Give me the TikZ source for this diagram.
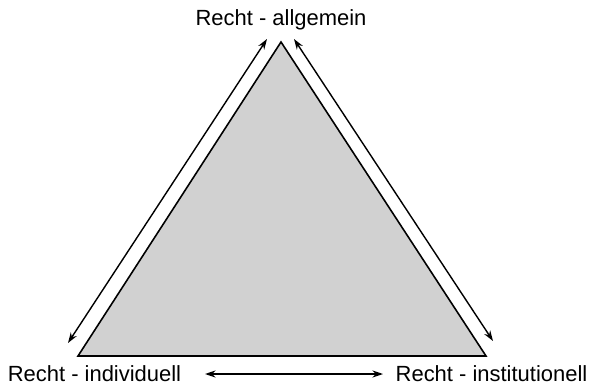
\documentclass[tikz,border=0pt]{standalone}
\usepackage{fontspec}
\setmainfont{Liberation Sans}
\usetikzlibrary{arrows.meta, positioning}

\begin{document}
\begin{tikzpicture}[
    x=0.02cm, y=0.02cm,
    cornerLabel/.style={font=\fontsize{12.5}{14}\selectfont, inner sep=0pt},
    triangleFill/.style={fill=black!18, draw=black, line width=0.9pt, line join=miter},
    sideRel/.style={{Stealth[length=6pt, width=4pt]}-{Stealth[length=6pt, width=4pt]}, line width=0.8pt}
]
    \useasboundingbox (0,0) rectangle (597,385);

    % Triangle corners
    \coordinate (top)   at (281,343);
    \coordinate (left)  at (78,29);
    \coordinate (right) at (486,29);
    \draw[triangleFill] (top) -- (left) -- (right) -- cycle;

    % Labels
    \node[cornerLabel] (allg) at (281,365) {Recht - allgemein};
    \node[cornerLabel] (indiv) at (94.5,11) {Recht - individuell};
    \node[cornerLabel] (inst) at (491.5,11) {Recht - institutionell};

    % Arrow ends
    \coordinate (lTop) at (267,346);
    \coordinate (lBot) at (68,42);
    \coordinate (rTop) at (294,346);
    \coordinate (rBot) at (493,44);
    \coordinate (bL) at (205,11);
    \coordinate (bR) at (383,11);

    % Relationships
    \draw[sideRel] (lTop) -- (lBot);
    \draw[sideRel] (rTop) -- (rBot);
    \draw[sideRel] (bL) -- (bR);
\end{tikzpicture}
\end{document}
